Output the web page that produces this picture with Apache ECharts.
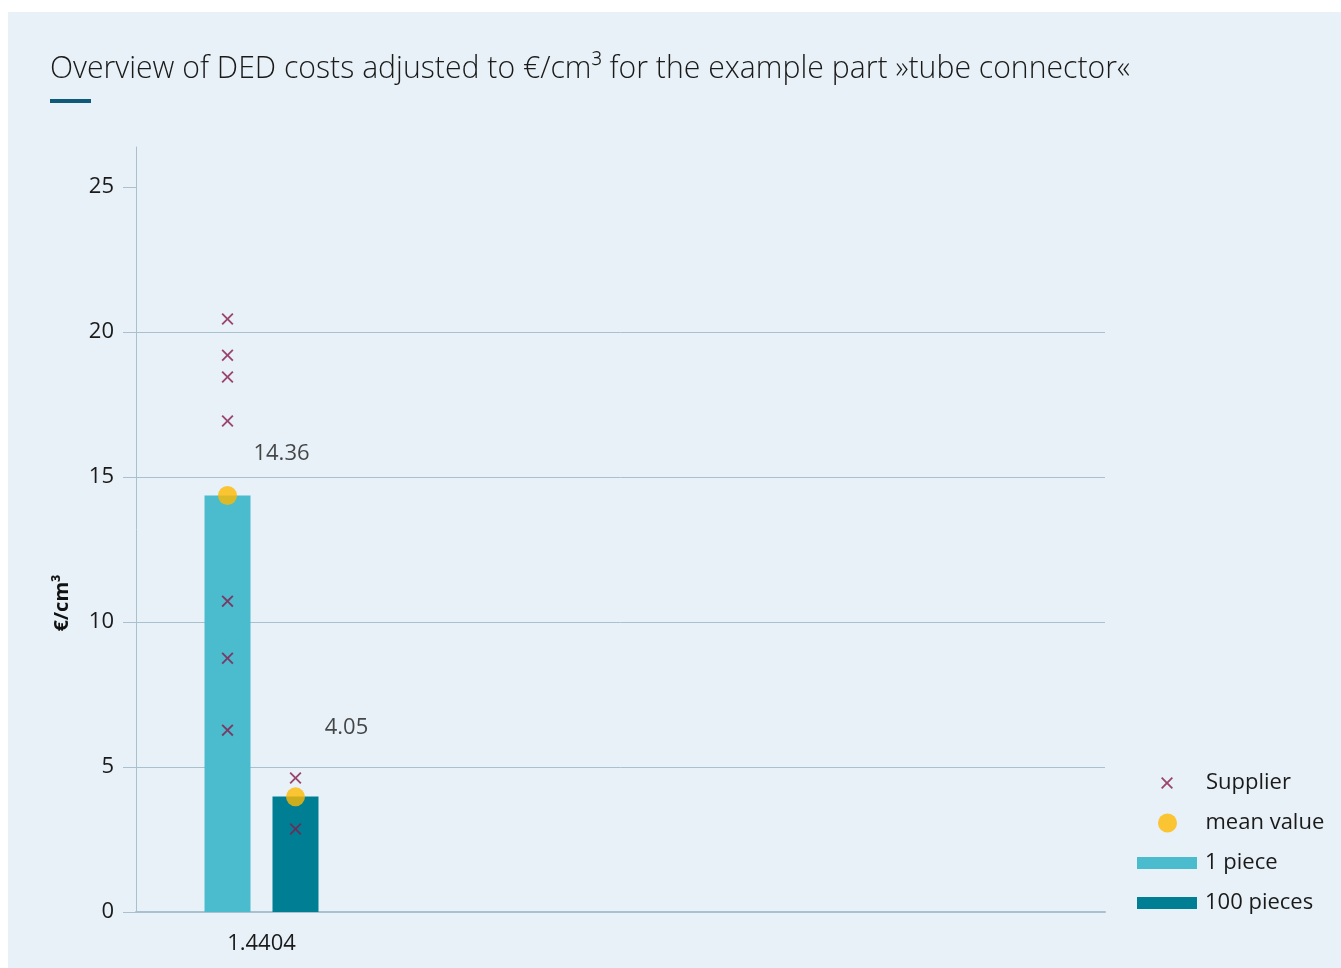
<!DOCTYPE html>
<html><head><meta charset="utf-8">
<script src="https://cdn.jsdelivr.net/npm/echarts@6/dist/echarts.min.js"></script>
<style>html,body{margin:0;padding:0;background:#fff}#c{width:1341px;height:968px}</style>
</head><body><div id="c"></div><script>
// ---- data ----
const categories = ['1.4404'];
const yTicks = [0, 5, 10, 15, 20, 25];
const onePiece = [14.36];
const hundredPieces = [3.98];
const supplierOnePiece = [20.45, 19.2, 18.45, 16.93, 10.72, 8.75, 6.27];
const supplierHundredPieces = [4.62, 2.86];
const meanOnePiece = [14.36];
const meanHundredPieces = [3.97];
const meanLabels = ['14.36', '4.05'];

const FONT = 'Open Sans';
const TEXT = '#1a1a1a';
const GRID_COLOR = '#a9c1cf';
const X_PATH = 'path://M1.3,0 L6,4.7 L10.7,0 L12,1.3 L7.3,6 L12,10.7 L10.7,12 L6,7.3 L1.3,12 L0,10.7 L4.7,6 L0,1.3 Z';

const chart = echarts.init(document.getElementById('c'), null, {renderer: 'canvas'});
const pts = arr => arr.map(v => [categories[0], v]);

chart.setOption({
  animation: false,
  backgroundColor: '#ffffff',
  textStyle: {fontFamily: FONT},
  graphic: [
    {type: 'rect', z: -10, shape: {x: 8, y: 12, width: 1341, height: 968}, style: {fill: '#e8f1f7'}, silent: true},
    {type: 'text', x: 50, y: 69, scaleX: 0.974,
     style: {text: 'Overview of DED costs adjusted to €/cm³ for the example part »tube connector«',
             font: '300 31px "Open Sans"', fill: TEXT, align: 'left', verticalAlign: 'middle'}},
    {type: 'rect', shape: {x: 50, y: 99, width: 41, height: 4}, style: {fill: '#0f5a79'}},
    {type: 'text', x: 62, y: 603, rotation: Math.PI / 2,
     style: {text: '€/cm³', font: 'bold 20px "Open Sans"', fill: '#111', align: 'center', verticalAlign: 'middle'}}
  ],
  legend: [
    {data: ['Supplier'], left: 1161, top: 772, padding: 0, itemWidth: 60, itemHeight: 12,
     textStyle: {fontSize: 22, color: TEXT, fontFamily: FONT, padding: [0, 0, 0, 4]}},
    {data: ['mean value'], left: 1158, top: 812, padding: 0, itemWidth: 60, itemHeight: 19,
     textStyle: {fontSize: 22, color: TEXT, fontFamily: FONT, padding: [0, 0, 0, 3]}},
    {data: [{name: '1 piece', icon: 'rect'}, {name: '100 pieces', icon: 'rect'}], orient: 'vertical',
     left: 1137, top: 852, padding: 0, itemWidth: 60, itemHeight: 12, itemGap: 18,
     textStyle: {fontSize: 22, color: TEXT, fontFamily: FONT, padding: [0, 0, 0, 3]}}
  ],
  grid: [
    {left: 136, right: 236, top: 147, bottom: 56},
    {left: 136, width: 251, top: 147, bottom: 56}
  ],
  xAxis: [
    {type: 'value', gridIndex: 0, min: 0, max: 1,
     axisLine: {show: true, lineStyle: {color: GRID_COLOR, width: 2}},
     axisTick: {show: false}, axisLabel: {show: false}, splitLine: {show: false}},
    {type: 'category', gridIndex: 1, data: categories,
     axisLine: {show: false}, axisTick: {show: false},
     axisLabel: {fontSize: 22, color: TEXT, fontFamily: FONT, margin: 21}}
  ],
  yAxis: [
    {type: 'value', gridIndex: 0, min: 0, max: 26.38, interval: 5,
     axisLine: {show: true, lineStyle: {color: GRID_COLOR, width: 1}},
     axisTick: {show: true, length: 13, customValues: yTicks, lineStyle: {color: GRID_COLOR}},
     axisLabel: {customValues: yTicks, fontSize: 22, color: TEXT, fontFamily: FONT, margin: 22},
     splitLine: {show: true, showMaxLine: false, lineStyle: {color: GRID_COLOR, width: 1}}},
    {type: 'value', gridIndex: 1, min: 0, max: 26.38, show: false}
  ],
  series: [
    {name: '1 piece', type: 'bar', xAxisIndex: 1, yAxisIndex: 1, data: onePiece,
     barWidth: 46, barGap: '47.8%', itemStyle: {color: '#4bbccd'}},
    {name: '100 pieces', type: 'bar', xAxisIndex: 1, yAxisIndex: 1, data: hundredPieces,
     barWidth: 46, barGap: '47.8%', itemStyle: {color: '#007f94'}},
    {name: 'Supplier', type: 'scatter', xAxisIndex: 1, yAxisIndex: 1, data: pts(supplierOnePiece),
     symbol: X_PATH, symbolSize: 12, symbolOffset: [-34, 0], itemStyle: {color: '#861a4c'}, z: 3},
    {name: 'Supplier', type: 'scatter', xAxisIndex: 1, yAxisIndex: 1, data: pts(supplierHundredPieces),
     symbol: X_PATH, symbolSize: 12, symbolOffset: [34, 0], itemStyle: {color: '#861a4c'}, z: 3},
    {name: 'mean value', type: 'scatter', xAxisIndex: 1, yAxisIndex: 1, data: pts(meanOnePiece),
     symbol: 'circle', symbolSize: 19, symbolOffset: [-34, 0], itemStyle: {color: '#ffb900'}, z: 4,
     label: {show: true, position: 'inside', offset: [54, -42], fontSize: 22, color: TEXT, fontFamily: FONT,
             formatter: () => meanLabels[0]}},
    {name: 'mean value', type: 'scatter', xAxisIndex: 1, yAxisIndex: 1, data: pts(meanHundredPieces),
     symbol: 'circle', symbolSize: 19, symbolOffset: [34, 0], itemStyle: {color: '#ffb900'}, z: 4,
     label: {show: true, position: 'inside', offset: [51, -69], fontSize: 22, color: TEXT, fontFamily: FONT,
             formatter: () => meanLabels[1]}}
  ]
});
</script></body></html>
